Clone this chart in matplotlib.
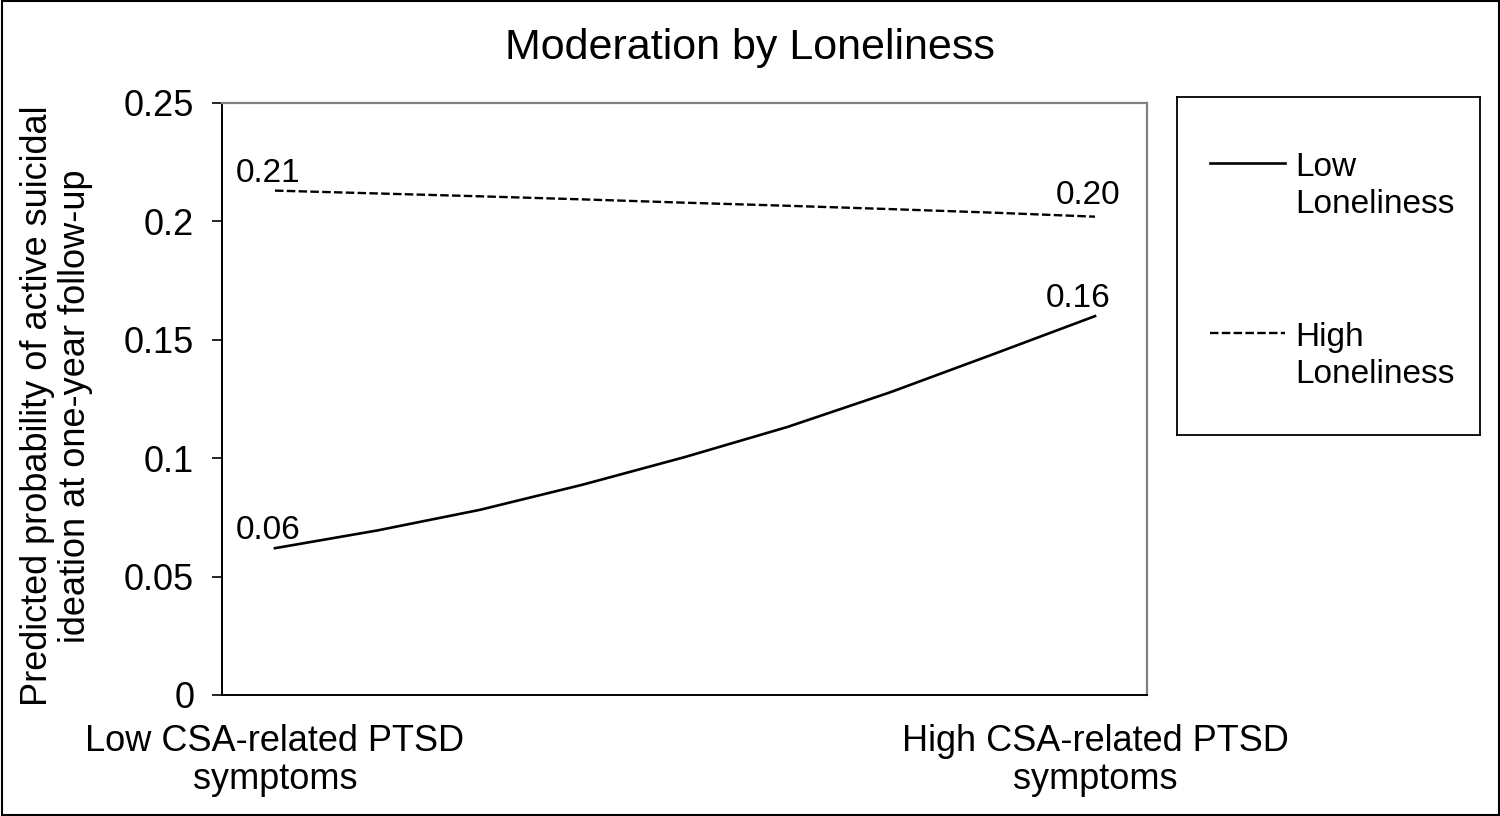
import matplotlib
matplotlib.use("Agg")
import matplotlib.pyplot as plt
from matplotlib.patches import Rectangle

plt.rcParams['font.family'] = ['Liberation Sans', 'DejaVu Sans']

# data
x_pos = [0, 0.125, 0.25, 0.375, 0.5, 0.625, 0.75, 0.875, 1]
low_lonely = [0.062, 0.0695, 0.0782, 0.0888, 0.1005, 0.1132, 0.1278, 0.1438, 0.160]
high_lonely = [0.213, 0.2118, 0.2106, 0.2093, 0.2079, 0.2066, 0.2052, 0.2037, 0.202]
x_labels = ['Low CSA-related PTSD\nsymptoms', 'High CSA-related PTSD\nsymptoms']
y_ticks = [0, 0.05, 0.1, 0.15, 0.2, 0.25]
y_tick_labels = ['0', '0.05', '0.1', '0.15', '0.2', '0.25']
series_names = ['Low\nLoneliness', 'High\nLoneliness']

W, H = 1500, 816
fig = plt.figure(figsize=(15, 8.16), dpi=100)

# outer border
fig.add_artist(Rectangle((0.001, 0.001), 0.998, 0.998, transform=fig.transFigure,
                         fill=False, edgecolor='black', linewidth=1.5))

ax = fig.add_axes([222 / W, (H - 695) / H, 925 / W, 592 / H])
ax.plot(x_pos, low_lonely, color='black', linewidth=1.9)
ax.plot(x_pos, high_lonely, color='black', linewidth=1.7, dashes=(3.6, 1.4))

ax.set_xlim(-0.0646, 1.0634)
ax.set_ylim(0, 0.25)
ax.set_yticks(y_ticks)
ax.set_yticklabels(y_tick_labels)
ax.set_xticks([0, 1])
ax.set_xticklabels(x_labels)
ax.tick_params(axis='x', length=0, pad=21, labelsize=26)
ax.tick_params(axis='y', length=7, width=1.2, direction='out', pad=13, labelsize=26)
for t in ax.get_xticklabels():
    t.set_linespacing(1.12)

for side in ['left', 'bottom']:
    ax.spines[side].set_color('black')
    ax.spines[side].set_linewidth(1.4)
for side in ['top', 'right']:
    ax.spines[side].set_color('#808080')
    ax.spines[side].set_linewidth(1.6)

ax.set_ylabel('Predicted probability of active suicidal\nideation at one-year follow-up',
              fontsize=26, linespacing=1.1)
ax.yaxis.set_label_coords(-0.1394, 0.488)

# end-point value labels
label_offsets = [
    (low_lonely[0], 0, (-5, 6.5)),
    (low_lonely[-1], 1, (-12, 6.5)),
    (high_lonely[0], 0, (-5, 6.5)),
    (high_lonely[-1], 1, (-5, 9)),
]
for val, xi, off in label_offsets:
    ax.annotate(f"{val:.2f}", xy=(xi, val), xytext=off, textcoords='offset points',
                ha='center', va='baseline', fontsize=24)

fig.text(0.5, 1 - 48 / H, 'Moderation by Loneliness', ha='center', va='center', fontsize=31)

# legend drawn in its own box
lax = fig.add_axes([1177 / W, (H - 435) / H, 303 / W, 338 / H])
lax.set_xlim(0, 1)
lax.set_ylim(0, 1)
lax.set_xticks([])
lax.set_yticks([])
for sp in lax.spines.values():
    sp.set_color('black')
    sp.set_linewidth(1.3)
lax.plot([0.109, 0.356], [0.805, 0.805], color='black', linewidth=1.9)
lax.plot([0.109, 0.356], [0.302, 0.302], color='black', linewidth=1.7, dashes=(3.6, 1.4))
lax.text(0.389, 0.657, series_names[0], ha='left', va='baseline', fontsize=24, linespacing=1.25)
lax.text(0.389, 0.154, series_names[1], ha='left', va='baseline', fontsize=24, linespacing=1.25)

fig.savefig('out.png', dpi=100)
